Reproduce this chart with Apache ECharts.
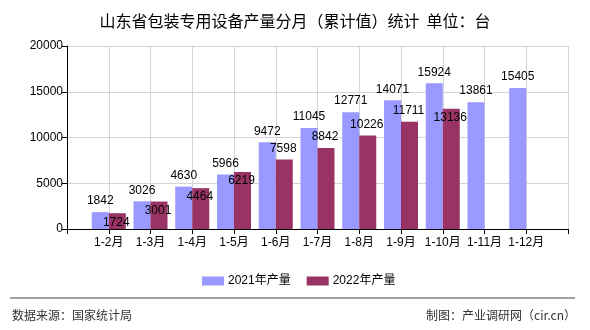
<!DOCTYPE html>
<html>
<head>
<meta charset="utf-8">
<script src="https://cdn.jsdelivr.net/npm/echarts@6/dist/echarts.min.js"></script>
<style>
html,body{margin:0;padding:0;background:#fff;}
#main{width:590px;height:330px;}
</style>
</head>
<body>
<div id="main"></div>
<script>
const categories = ['1-2月','1-3月','1-4月','1-5月','1-6月','1-7月','1-8月','1-9月','1-10月','1-11月','1-12月'];
const values2021 = [1842, 3026, 4630, 5966, 9472, 11045, 12771, 14071, 15924, 13861, 15405];
const values2022 = [1724, 3001, 4464, 6219, 7598, 8842, 10226, 11711, 13136];
const yTicks = [0, 5000, 10000, 15000, 20000];
// label placement style for 2022 series (true = inside bar top)
const inside2022 = [true, true, true, true, false, false, false, false, true];

const FONT = 'Liberation Sans, Noto Sans CJK SC, sans-serif';
const CJK = 'Noto Sans CJK SC, sans-serif';

// pad with empty slots at both ends (axis has an empty interval on each side)
const axisCats = [''].concat(categories, ['']);
const d2021 = [null].concat(values2021.map(v => v));
while (d2021.length < axisCats.length) d2021.push(null);
const d2022 = [null].concat(values2022.map((v, i) => ({
  value: v,
  label: inside2022[i]
    ? { position: 'insideTop', distance: 3 }
    : { position: 'top', distance: 5 }
})));
while (d2022.length < axisCats.length) d2022.push(null);

const chart = echarts.init(document.getElementById('main'), null, { renderer: 'canvas' });
chart.setOption({
  animation: false,
  backgroundColor: '#fff',
  title: {
    text: '山东省包装专用设备产量分月（累计值）统计  单位：台',
    left: 'center',
    top: 8,
    textStyle: { fontFamily: CJK, fontSize: 16, fontWeight: 'normal', color: '#000' }
  },
  legend: {
    left: 197,
    top: 270,
    itemWidth: 22,
    itemHeight: 9,
    itemGap: 16,
    icon: 'rect',
    textStyle: { fontFamily: FONT, fontSize: 12, color: '#000', padding: [0, 0, 0, -1] },
    data: ['2021年产量', '2022年产量']
  },
  grid: { left: 67, right: 22, top: 46, bottom: 101, containLabel: false },
  xAxis: {
    type: 'category',
    data: axisCats,
    boundaryGap: false,
    axisLine: { lineStyle: { color: '#000', width: 1 } },
    axisTick: { show: true, length: 5, lineStyle: { color: '#000' }, interval: 0 },
    axisLabel: { interval: 0, color: '#000', fontFamily: FONT, fontSize: 12, margin: 8 },
    splitLine: { show: true, interval: 0, lineStyle: { color: '#d4d4d4', width: 1 } }
  },
  yAxis: {
    type: 'value',
    min: yTicks[0],
    max: yTicks[yTicks.length - 1],
    interval: yTicks[1] - yTicks[0],
    axisLine: { show: true, lineStyle: { color: '#000', width: 1 } },
    axisTick: { show: true, length: 5, lineStyle: { color: '#000' } },
    axisLabel: { color: '#000', fontFamily: FONT, fontSize: 12, margin: 4, formatter: v => String(v) },
    splitLine: { show: true, lineStyle: { color: '#d4d4d4', width: 1 } }
  },
  series: [
    {
      name: '2021年产量',
      type: 'bar',
      data: d2021,
      barWidth: 17,
      barGap: '0%',
      itemStyle: { color: '#9999ff' },
      label: { show: true, position: 'top', distance: 5, color: '#000', fontFamily: FONT, fontSize: 12 }
    },
    {
      name: '2022年产量',
      type: 'bar',
      data: d2022,
      barWidth: 17,
      barGap: '0%',
      itemStyle: { color: '#993366' },
      label: { show: true, position: 'top', distance: 5, offset: [-1, 0], color: '#000', fontFamily: FONT, fontSize: 12 }
    }
  ],
  graphic: [
    {
      type: 'line',
      shape: { x1: 10, y1: 298, x2: 575, y2: 298 },
      style: { stroke: '#808080', lineWidth: 1.5 }
    },
    {
      type: 'text',
      left: 12,
      top: 309,
      style: { text: '数据来源：国家统计局', fill: '#333', font: '12px ' + CJK }
    },
    {
      type: 'text',
      right: 14,
      top: 309,
      style: { text: '制图：产业调研网（cir.cn）', fill: '#333', font: '12px ' + CJK }
    }
  ]
});
</script>
</body>
</html>
